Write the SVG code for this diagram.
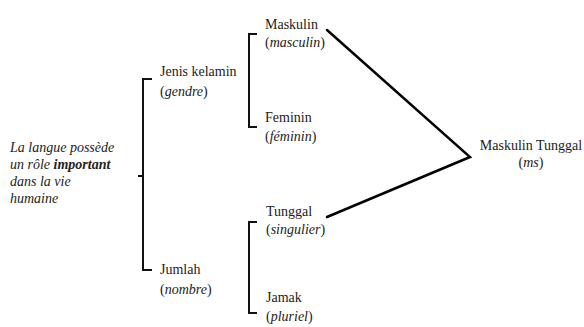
<svg xmlns="http://www.w3.org/2000/svg" width="584" height="327" viewBox="0 0 584 327" font-family="Liberation Serif, Times New Roman, serif">
<style>
text{font-family:"Liberation Serif","Times New Roman",Times,serif;font-size:14px;fill:#222}
.i{font-style:italic}
.b{font-weight:bold}
.br{fill:none;stroke:#111;stroke-width:2}
.ln{fill:none;stroke:#000;stroke-width:2.5;stroke-linecap:round}
</style>
<rect width="584" height="327" fill="#fff"/>
<g id="root">
<text class="i" x="10" y="152">La langue possède</text>
<text class="i" x="10" y="169">un rôle <tspan class="b">important</tspan></text>
<text class="i" x="10" y="186">dans la vie</text>
<text class="i" x="10" y="203">humaine</text>
</g>
<g id="jenis">
<text x="160" y="76">Jenis kelamin</text>
<text x="160" y="96">(<tspan class="i">gendre</tspan>)</text>
</g>
<g id="jumlah">
<text x="160" y="274">Jumlah</text>
<text x="160" y="294">(<tspan class="i">nombre</tspan>)</text>
</g>
<g id="maskulin">
<text x="265" y="29">Maskulin</text>
<text x="265" y="47">(<tspan class="i">masculin</tspan>)</text>
</g>
<g id="feminin">
<text x="265" y="122">Feminin</text>
<text x="265" y="141">(<tspan class="i">féminin</tspan>)</text>
</g>
<g id="tunggal">
<text x="266" y="216">Tunggal</text>
<text x="266" y="234">(<tspan class="i">singulier</tspan>)</text>
</g>
<g id="jamak">
<text x="266" y="302">Jamak</text>
<text x="266" y="321">(<tspan class="i">pluriel</tspan>)</text>
</g>
<g id="result">
<text x="531" y="150" text-anchor="middle">Maskulin Tunggal</text>
<text x="531" y="167" text-anchor="middle">(<tspan class="i">ms</tspan>)</text>
</g>
<g id="brace-main"><path class="br" d="M152,79 H143 V176 H138 M143,176 V270 H152"/></g>
<g id="brace-gender"><path class="br" d="M257,34 H249 V127 H257"/></g>
<g id="brace-number"><path class="br" d="M257,222 H249 V313 H257"/></g>
<g id="connectors">
<path class="ln" d="M327,30 L470,157 L327,217"/>
</g>
</svg>
